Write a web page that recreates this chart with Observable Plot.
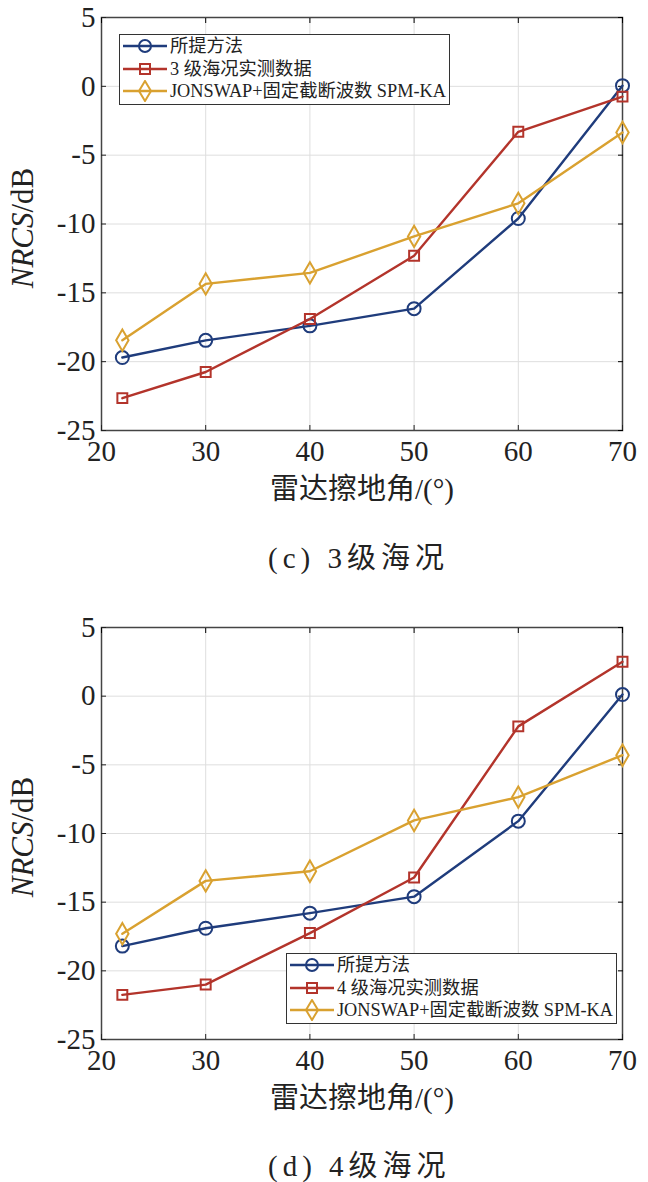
<!DOCTYPE html>
<html><head><meta charset="utf-8">
<script src="https://cdn.jsdelivr.net/npm/d3@7"></script>
<script src="https://cdn.jsdelivr.net/npm/@observablehq/plot@0.6"></script>
<style>
body{margin:0;background:#fff;font-family:"Liberation Serif","Times New Roman","DejaVu Serif","Noto Sans CJK SC",serif;}
.panel{position:relative;width:648px;height:510px;}
.cap{width:648px;font-size:29px;color:#222;position:relative;}
.cap span{position:absolute;white-space:nowrap;letter-spacing:5px;transform:translateY(-50%);}
.ylab{position:absolute;left:23px;font-size:31px;color:#222;transform:translate(-50%,-50%) rotate(-90deg);white-space:nowrap;}
.legend{position:absolute;border:1.5px solid #333;background:#fff;padding:0px 3px 1px 3px;font-size:18.3px;color:#222;line-height:22.5px;}
.legend .row{display:flex;align-items:center;white-space:nowrap;}
.legend svg{margin-right:3px;}
</style></head>
<body>
<div class="panel" id="pc"></div>
<div class="cap" style="height:100px;"><span style="left:268px;top:45px;">(c) 3级海况</span></div>
<div class="panel" id="pd"></div>
<div class="cap" style="height:62px;"><span style="left:268px;top:43px;">(d) 4级海况</span></div>
<script>
const angles = [22, 30, 40, 50, 60, 70];
const xTicks = [20, 30, 40, 50, 60, 70];
const yTicks = [-25, -20, -15, -10, -5, 0, 5];
const seriesNames = ["所提方法", "实测数据", "JONSWAP+固定截断波数 SPM-KA"];
const seriesColors = ["#1f3c7c", "#b3342b", "#d9a130"];
const seriesSymbols = ["circle", "square", "diamond"];
// (c) 3级海况
const c_method   = [-19.7, -18.45, -17.4, -16.15, -9.6, 0.05];
const c_measured = [-22.65, -20.75, -16.9, -12.3, -3.3, -0.75];
const c_jonswap  = [-18.45, -14.35, -13.55, -10.9, -8.5, -3.35];
// (d) 4级海况
const d_method   = [-18.2, -16.9, -15.8, -14.6, -9.1, 0.12];
const d_measured = [-21.75, -21.0, -17.25, -13.2, -2.2, 2.5];
const d_jonswap  = [-17.3, -13.45, -12.75, -9.05, -7.35, -4.3];

const FONT = '"Liberation Serif","Times New Roman","DejaVu Serif","Noto Sans CJK SC",serif';

function rows(list) {
  const out = [];
  list.forEach((vals, s) => vals.forEach((v, i) => out.push({s, x: angles[i], y: v})));
  return out;
}

function makePlot(data, mb) {
  const marks = [
    Plot.gridX(xTicks, {stroke: "#dedede", strokeOpacity: 1, strokeWidth: 1}),
    Plot.gridY(yTicks, {stroke: "#dedede", strokeOpacity: 1, strokeWidth: 1}),
    Plot.frame({stroke: "#444", strokeWidth: 1.5}),
    Plot.axisX(xTicks, {anchor: "bottom", tickSize: -5, tickPadding: 15, fontSize: 29, tickFormat: d => String(d), label: "雷达擦地角/(°)", labelAnchor: "center", labelArrow: "none", labelOffset: 68, color: "#222", fontFamily: FONT}),
    Plot.axisX(xTicks, {anchor: "top", tickSize: -5, text: null, label: null}),
    Plot.axisY(yTicks, {anchor: "left", tickSize: -5, tickPadding: 11, fontSize: 29, tickFormat: d => String(d), label: null, color: "#222", fontFamily: FONT}),
    Plot.axisY(yTicks, {anchor: "right", tickSize: -5, text: null, label: null})
  ];
  for (let s = 0; s < 3; s++) {
    const d = data.filter(r => r.s === s);
    marks.push(Plot.line(d, {x: "x", y: "y", stroke: seriesColors[s], strokeWidth: 2.4}));
    marks.push(Plot.dot(d, {x: "x", y: "y", stroke: seriesColors[s], strokeWidth: 2, fill: "none", symbol: seriesSymbols[s], r: s === 1 ? 5.6 : 6.5}));
  }
  return Plot.plot({
    width: 648, height: 510,
    marginLeft: 101, marginRight: 26, marginTop: 17, marginBottom: mb,
    style: {fontFamily: FONT, background: "#fff"},
    x: {domain: [20, 70]},
    y: {domain: [-25, 5]},
    marks
  });
}

function symbolPath(s) {
  if (s === 0) return '<circle cx="22" cy="11" r="6" fill="none" stroke="' + seriesColors[0] + '" stroke-width="2"/>';
  if (s === 1) return '<rect x="17" y="6" width="10" height="10" fill="none" stroke="' + seriesColors[1] + '" stroke-width="2"/>';
  return '<path d="M22,1 L28,11 L22,21 L16,11 Z" fill="none" stroke="' + seriesColors[2] + '" stroke-width="2"/>';
}

function makeLegend(labels, style) {
  const div = document.createElement("div");
  div.className = "legend";
  Object.assign(div.style, style);
  labels.forEach((lab, s) => {
    const row = document.createElement("div");
    row.className = "row";
    row.innerHTML = '<svg width="44" height="22"><line x1="0" y1="11" x2="44" y2="11" stroke="' + seriesColors[s] + '" stroke-width="2.4"/>' + symbolPath(s) + '</svg><span>' + lab + '</span>';
    div.appendChild(row);
  });
  return div;
}

function yLabel(top) {
  const d = document.createElement("div");
  d.className = "ylab";
  d.style.top = top + "px";
  d.innerHTML = '<i>NRCS</i>/dB';
  return d;
}

const pc = document.getElementById("pc");
pc.appendChild(makePlot(rows([c_method, c_measured, c_jonswap]), 80));
pc.appendChild(yLabel(228));
pc.appendChild(makeLegend(["所提方法", "3 级海况实测数据", seriesNames[2]], {left: "119px", top: "34px"}));

const pd = document.getElementById("pd");
pd.appendChild(makePlot(rows([d_method, d_measured, d_jonswap]), 81));
pd.appendChild(yLabel(227));
pd.appendChild(makeLegend(["所提方法", "4 级海况实测数据", seriesNames[2]], {left: "286px", top: "343px"}));
</script>
</body></html>
